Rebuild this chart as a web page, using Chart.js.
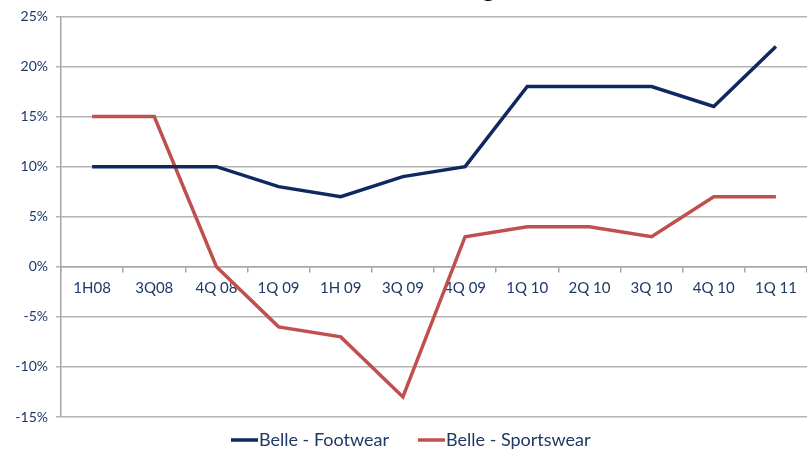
<!DOCTYPE html>
<html>
<head>
<meta charset="utf-8">
<script src="https://cdn.jsdelivr.net/npm/chart.js@4"></script>
<style>
  html, body { margin: 0; padding: 0; background: #fff; }
  #wrap { width: 807px; height: 454px; }
</style>
</head>
<body>
<div id="wrap"><canvas id="growthChart"></canvas></div>
<script>
// Categories (x axis)
const quarters = ['1H08', '3Q08', '4Q 08', '1Q 09', '1H 09', '3Q 09', '4Q 09', '1Q 10', '2Q 10', '3Q 10', '4Q 10', '1Q 11'];
// Series values (%)
const footwear = [10, 10, 10, 8, 7, 9, 10, 18, 18, 18, 16, 22];
const sportswear = [15, 15, 0, -6, -7, -13, 3, 4, 4, 3, 7, 7];
// Y axis range
const yMin = -15;
const yMax = 25;
const yStep = 5;

const navy = '#0f2860';
const red = '#c0504d';
const labelColor = '#1f3866';

// partially visible title above the plot (only a descender shows)
const titleStub = {
    id: 'titleStub',
    afterDraw(chart) {
        const ctx = chart.ctx;
        ctx.save();
        ctx.fillStyle = '#000';
        ctx.font = 'bold 26px Lato';
        ctx.textBaseline = 'alphabetic';
        ctx.fillText('g', 482, -3);
        ctx.restore();
    }
};

// legend drawn by hand so the line sits right against its text
const lineLegend = {
    id: 'lineLegend',
    afterDraw(chart) {
        const ctx = chart.ctx;
        const y = 440;
        let x = 231;
        ctx.save();
        ctx.font = '18px Lato';
        ctx.textBaseline = 'middle';
        chart.data.datasets.forEach(ds => {
            ctx.strokeStyle = ds.borderColor;
            ctx.lineWidth = 3.5;
            ctx.beginPath();
            ctx.moveTo(x, y);
            ctx.lineTo(x + 27, y);
            ctx.stroke();
            x += 28;
            ctx.fillStyle = labelColor;
            ctx.fillText(ds.label, x, y);
            x += ctx.measureText(ds.label).width + 29;
        });
        ctx.restore();
    }
};

new Chart(document.getElementById('growthChart'), {
    type: 'line',
    data: {
        labels: quarters,
        datasets: [
            {
                label: 'Belle - Footwear',
                data: footwear,
                borderColor: navy,
                backgroundColor: navy,
                borderWidth: 3.5,
                pointRadius: 0,
                tension: 0
            },
            {
                label: 'Belle - Sportswear',
                data: sportswear,
                borderColor: red,
                backgroundColor: red,
                borderWidth: 3.5,
                pointRadius: 0,
                tension: 0
            }
        ]
    },
    options: {
        responsive: true,
        maintainAspectRatio: false,
        animation: false,
        layout: { padding: { top: 16, right: -2, left: 0, bottom: 37 } },
        plugins: {
            tooltip: { enabled: false },
            legend: { display: false }
        },
        scales: {
            x: {
                position: { y: 0 },
                offset: true,
                grid: {
                    offset: true,
                    drawOnChartArea: false,
                    drawTicks: true,
                    tickLength: 5,
                    color: '#a6a6a6',
                    lineWidth: 1.5
                },
                border: { color: '#a6a6a6', width: 1.5 },
                ticks: {
                    color: labelColor,
                    font: { family: 'Lato', size: 15 },
                    padding: 7,
                    maxRotation: 0,
                    autoSkip: false
                }
            },
            y: {
                min: yMin,
                max: yMax,
                afterFit(scale) { scale.width = 61; },
                grid: {
                    color: '#b4b4b4',
                    lineWidth: 1.5,
                    tickLength: 5
                },
                border: { color: '#a6a6a6', width: 1.5 },
                ticks: {
                    stepSize: yStep,
                    color: labelColor,
                    font: { family: 'Lato', size: 14 },
                    padding: 8,
                    callback: v => v + '%'
                }
            }
        }
    },
    plugins: [titleStub, lineLegend]
});
</script>
</body>
</html>
